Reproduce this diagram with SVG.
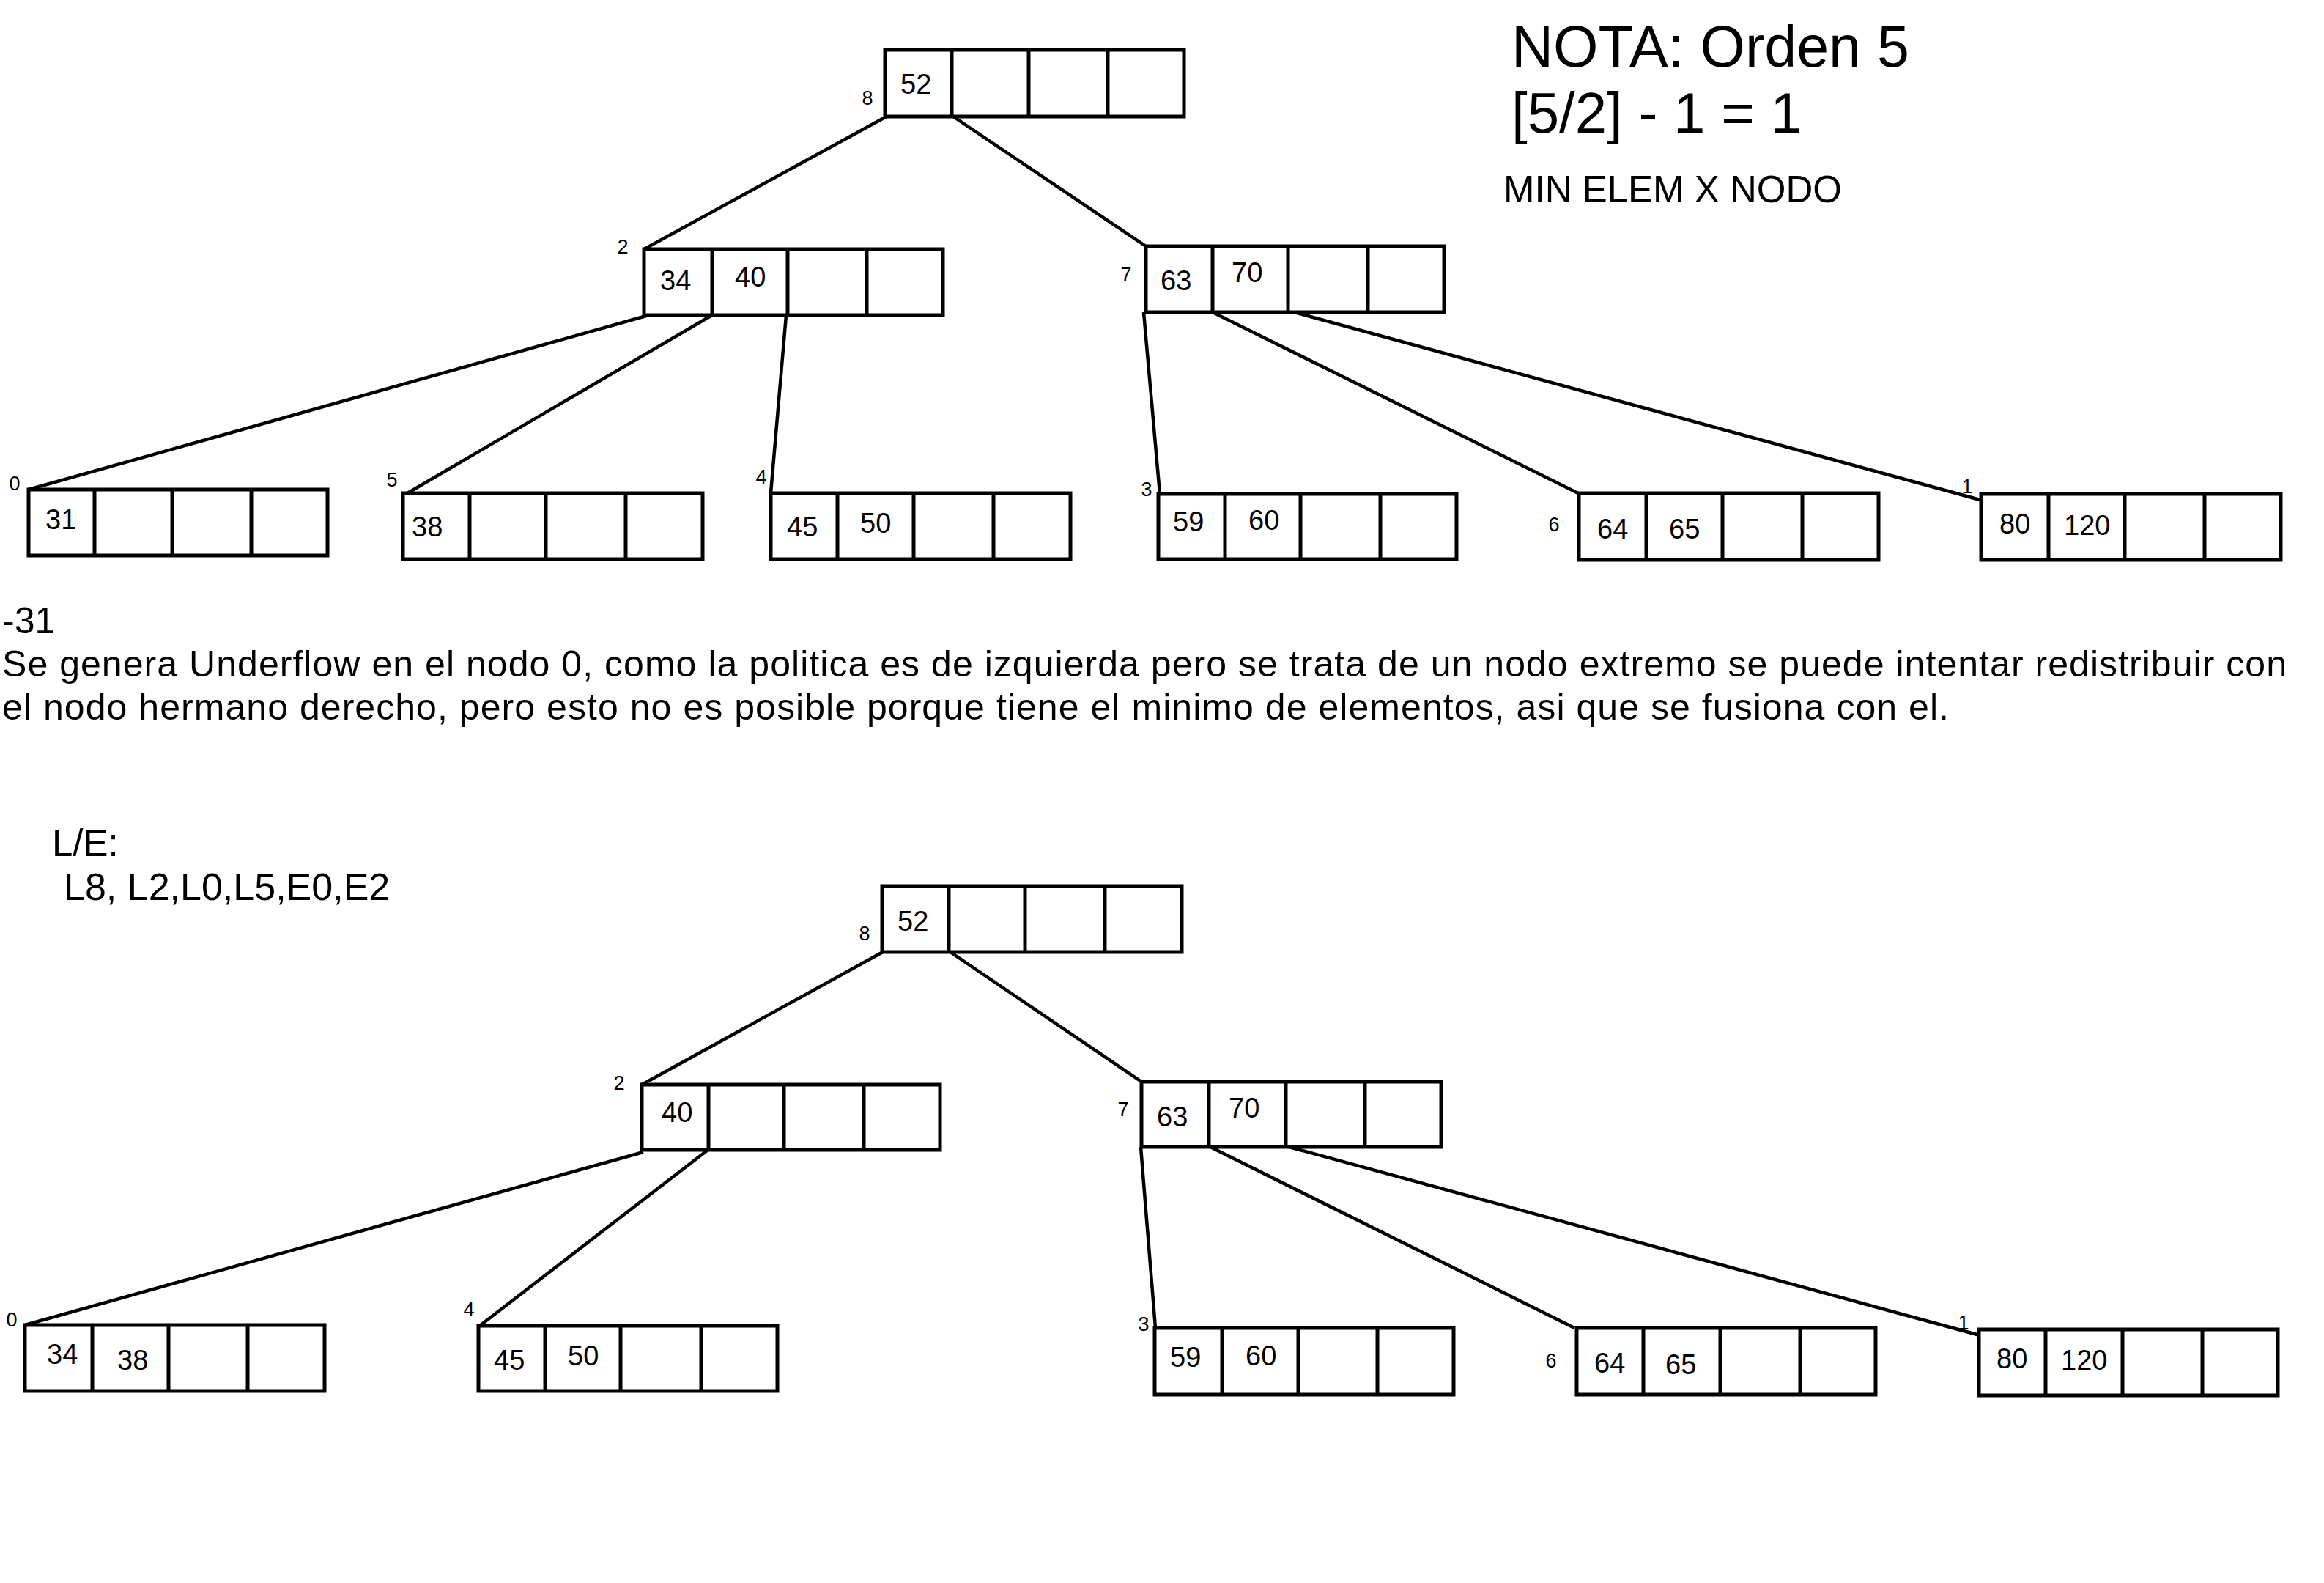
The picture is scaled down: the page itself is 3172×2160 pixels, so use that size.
<svg xmlns="http://www.w3.org/2000/svg" width="3172" height="2160" viewBox="0 0 3172 2160">
<style>
.box{fill:#fff;stroke:#000;stroke-width:5}
.div{stroke:#000;stroke-width:5}
.edge{stroke:#000;stroke-width:4.5;fill:none}
text{font-family:"Liberation Sans",Arial,sans-serif;fill:#000}
.k{font-size:38px}
.id{font-size:27px;text-anchor:middle}
.body{font-size:50px}
</style>
<rect width="3172" height="2160" fill="#fff"/>
<g id="connectors">
<line class="edge" x1="1210" y1="159" x2="879" y2="340"/>
<line class="edge" x1="1301" y1="159" x2="1564" y2="336"/>
<line class="edge" x1="882" y1="431" x2="39" y2="668"/>
<line class="edge" x1="972" y1="430" x2="556" y2="673"/>
<line class="edge" x1="1073" y1="430" x2="1052" y2="673"/>
<line class="edge" x1="1561" y1="426" x2="1583" y2="674"/>
<line class="edge" x1="1655" y1="426" x2="2154" y2="673"/>
<line class="edge" x1="1763" y1="425" x2="2706" y2="683"/>
<line class="edge" x1="1205" y1="1299" x2="876" y2="1480"/>
<line class="edge" x1="1297" y1="1299" x2="1558" y2="1476"/>
<line class="edge" x1="878" y1="1572" x2="34" y2="1808"/>
<line class="edge" x1="965" y1="1570" x2="656" y2="1808"/>
<line class="edge" x1="1557" y1="1565" x2="1577" y2="1812"/>
<line class="edge" x1="1652" y1="1565" x2="2149" y2="1812"/>
<line class="edge" x1="1756" y1="1564" x2="2702" y2="1822"/>
</g>
<g id="top-n8">
<rect class="box" x="1208" y="68" width="408" height="91"/>
<path class="div" d="M1299 68V159M1404 68V159M1512 68V159"/>
<text class="id" x="1184" y="143">8</text>
<text class="k" x="1229" y="128">52</text>
</g>
<g id="top-n2">
<rect class="box" x="879" y="340" width="408" height="90"/>
<path class="div" d="M972 340V430M1075 340V430M1183 340V430"/>
<text class="id" x="850" y="346">2</text>
<text class="k" x="901" y="396">34</text>
<text class="k" x="1003" y="391">40</text>
</g>
<g id="top-n7">
<rect class="box" x="1564" y="336" width="407" height="90"/>
<path class="div" d="M1655 336V426M1758 336V426M1867 336V426"/>
<text class="id" x="1537" y="384">7</text>
<text class="k" x="1584" y="396">63</text>
<text class="k" x="1681" y="385">70</text>
</g>
<g id="top-n0">
<rect class="box" x="39" y="668" width="408" height="90"/>
<path class="div" d="M129 668V758M235 668V758M343 668V758"/>
<text class="id" x="20" y="669">0</text>
<text class="k" x="62" y="722">31</text>
</g>
<g id="top-n5">
<rect class="box" x="550" y="673" width="409" height="90"/>
<path class="div" d="M641 673V763M745 673V763M854 673V763"/>
<text class="id" x="535" y="664">5</text>
<text class="k" x="562" y="732">38</text>
</g>
<g id="top-n4">
<rect class="box" x="1052" y="673" width="409" height="90"/>
<path class="div" d="M1143 673V763M1247 673V763M1356 673V763"/>
<text class="id" x="1039" y="660">4</text>
<text class="k" x="1074" y="732">45</text>
<text class="k" x="1174" y="727">50</text>
</g>
<g id="top-n3">
<rect class="box" x="1581" y="674" width="407" height="89"/>
<path class="div" d="M1672 674V763M1775 674V763M1884 674V763"/>
<text class="id" x="1565" y="677">3</text>
<text class="k" x="1601" y="725">59</text>
<text class="k" x="1704" y="723">60</text>
</g>
<g id="top-n6">
<rect class="box" x="2155" y="673" width="409" height="91"/>
<path class="div" d="M2247 673V764M2351 673V764M2460 673V764"/>
<text class="id" x="2121" y="725">6</text>
<text class="k" x="2180" y="735">64</text>
<text class="k" x="2278" y="735">65</text>
</g>
<g id="top-n1">
<rect class="box" x="2704" y="674" width="409" height="90"/>
<path class="div" d="M2796 674V764M2900 674V764M3009 674V764"/>
<text class="id" x="2685" y="673">1</text>
<text class="k" x="2729" y="728">80</text>
<text class="k" x="2817" y="730">120</text>
</g>
<g id="bot-n8">
<rect class="box" x="1204" y="1209" width="409" height="90"/>
<path class="div" d="M1295 1209V1299M1399 1209V1299M1508 1209V1299"/>
<text class="id" x="1180" y="1283">8</text>
<text class="k" x="1225" y="1270">52</text>
</g>
<g id="bot-n2">
<rect class="box" x="876" y="1480" width="407" height="89"/>
<path class="div" d="M967 1480V1569M1070 1480V1569M1179 1480V1569"/>
<text class="id" x="845" y="1487">2</text>
<text class="k" x="903" y="1531">40</text>
</g>
<g id="bot-n7">
<rect class="box" x="1558" y="1476" width="409" height="89"/>
<path class="div" d="M1650 1476V1565M1755 1476V1565M1863 1476V1565"/>
<text class="id" x="1533" y="1523">7</text>
<text class="k" x="1579" y="1537">63</text>
<text class="k" x="1677" y="1525">70</text>
</g>
<g id="bot-n0">
<rect class="box" x="34" y="1808" width="409" height="90"/>
<path class="div" d="M126 1808V1898M230 1808V1898M338 1808V1898"/>
<text class="id" x="16" y="1810">0</text>
<text class="k" x="64" y="1861">34</text>
<text class="k" x="160" y="1869">38</text>
</g>
<g id="bot-n4">
<rect class="box" x="653" y="1809" width="408" height="89"/>
<path class="div" d="M744 1809V1898M847 1809V1898M957 1809V1898"/>
<text class="id" x="640" y="1796">4</text>
<text class="k" x="674" y="1869">45</text>
<text class="k" x="775" y="1863">50</text>
</g>
<g id="bot-n3">
<rect class="box" x="1576" y="1812" width="408" height="91"/>
<path class="div" d="M1668 1812V1903M1772 1812V1903M1880 1812V1903"/>
<text class="id" x="1561" y="1816">3</text>
<text class="k" x="1597" y="1865">59</text>
<text class="k" x="1700" y="1863">60</text>
</g>
<g id="bot-n6">
<rect class="box" x="2152" y="1812" width="408" height="91"/>
<path class="div" d="M2243 1812V1903M2348 1812V1903M2457 1812V1903"/>
<text class="id" x="2117" y="1866">6</text>
<text class="k" x="2176" y="1873">64</text>
<text class="k" x="2273" y="1875">65</text>
</g>
<g id="bot-n1">
<rect class="box" x="2701" y="1814" width="408" height="90"/>
<path class="div" d="M2792 1814V1904M2897 1814V1904M3006 1814V1904"/>
<text class="id" x="2680" y="1814">1</text>
<text class="k" x="2725" y="1867">80</text>
<text class="k" x="2813" y="1869">120</text>
</g>
<g id="notes">
<text x="2063" y="91" font-size="79">NOTA: Orden 5</text>
<text x="2063" y="181" font-size="78">[5/2] - 1 = 1</text>
<text x="2052" y="276" font-size="51">MIN ELEM X NODO</text>
<text class="body" x="3" y="864">-31</text>
<text class="body" x="3" y="923" textLength="3118" lengthAdjust="spacing">Se genera Underflow en el nodo 0, como la politica es de izquierda pero se trata de un nodo extremo se puede intentar redistribuir con</text>
<text class="body" x="3" y="982" textLength="2657" lengthAdjust="spacing">el nodo hermano derecho, pero esto no es posible porque tiene el minimo de elementos, asi que se fusiona con el.</text>
<text x="71" y="1168" font-size="51">L/E:</text>
<text x="87" y="1228" font-size="52">L8, L2,L0,L5,E0,E2</text>
</g>
</svg>
